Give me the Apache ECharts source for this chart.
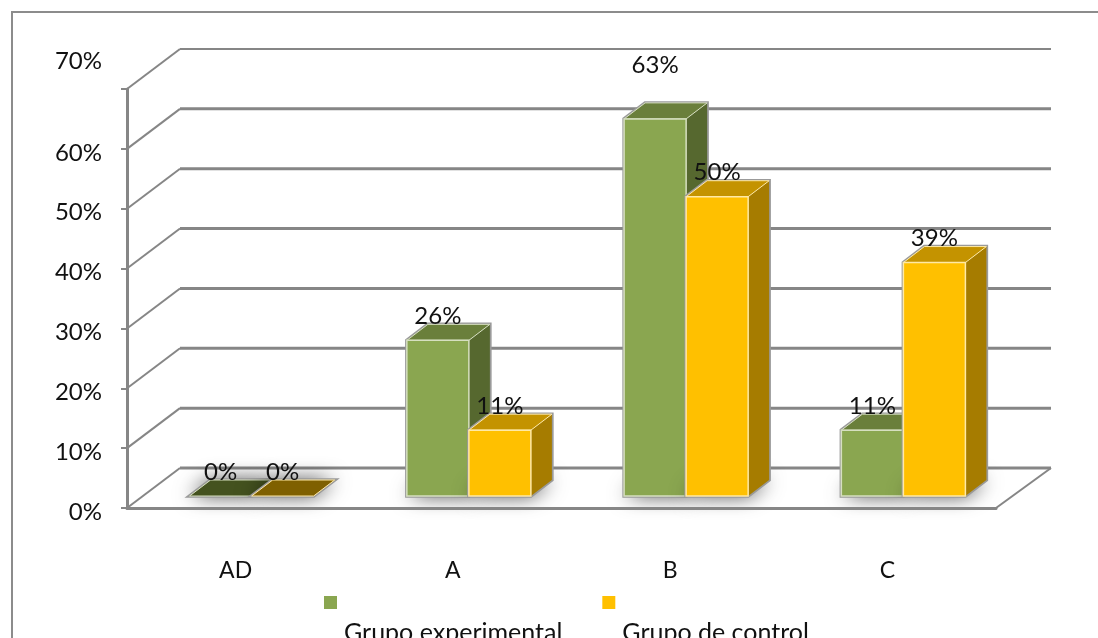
<!DOCTYPE html>
<html>
<head>
<meta charset="utf-8">
<style>html,body{margin:0;padding:0;background:#fff}#chart{width:1098px;height:638px}</style>
<script src="https://cdn.jsdelivr.net/npm/echarts@6/dist/echarts.min.js"></script>
</head>
<body>
<div id="chart"></div>
<script>
// Achievement levels and the share of each group (percent)
const categories = ['AD', 'A', 'B', 'C'];
const experimental = [0, 26, 63, 11];
const control = [0, 11, 50, 39];
const wallTicks = [0, 10, 20, 30, 40, 50, 60, 70];

const FONT = 'Lato, "Open Sans", sans-serif';
const TEXT = '#111';
const GRID = '#868686';

// Oblique projection used for the fake 3D: how far back the floor runs, and the bar's place in it
const FLOOR = { dx: 53, dy: -40, overhang: 2 };
const BAR = { gapX: 16, gapY: -12, dx: 21, dy: -16, widthRatio: 0.2855 };

const palettes = {
  green: { front: '#8aa650', top: '#6a7f3b', side: '#56682f', flat: '#44521f', edge: '#d6dfc0' },
  gold: { front: '#ffc000', top: '#c49300', side: '#a67c00', flat: '#7f6000', edge: '#ffe9a6' }
};

// Back wall, side wall and floor lines, one per value tick
function renderWall(params, api) {
  const value = api.value(0);
  const y = api.coord([0, value])[1];
  const left = params.coordSys.x;
  const right = left + params.coordSys.width;
  const bx = left + FLOOR.dx;
  const by = y + FLOOR.dy;
  const ex = right + FLOOR.dx + FLOOR.overhang;
  const children = [
    { type: 'polyline', shape: { points: [[left, y], [bx, by]] },
      style: { stroke: GRID, lineWidth: 2, fill: null } },
    { type: 'line', shape: { x1: bx, y1: by, x2: ex, y2: by },
      style: { stroke: GRID, lineWidth: value === wallTicks[wallTicks.length - 1] ? 2 : 3 } }
  ];
  if (value === 0) {
    children.push({ type: 'line', shape: { x1: right, y1: y, x2: ex, y2: by },
      style: { stroke: GRID, lineWidth: 2 } });
  }
  return { type: 'group', silent: true, children };
}

// One oblique bar; seriesSide is -1 for the left bar of a pair and 0 for the right one
function barRenderer(pal, seriesSide) {
  return function (params, api) {
    const cat = api.value(0);
    const val = api.value(1);
    const band = api.size([1, 0])[0];
    const w = band * BAR.widthRatio;
    const [cx, y0] = api.coord([cat, 0]);
    const yTop = api.coord([cat, val])[1];
    const xl = cx + BAR.gapX + seriesSide * w;
    const xr = xl + w;
    const base = y0 + BAR.gapY;
    const top = yTop + BAR.gapY;
    const { dx, dy } = BAR;
    const children = [
      // soft shadow cast on the floor
      { type: 'polygon', shape: { points: [[xl, base], [xr, base], [xr + dx, base + dy], [xl + dx, base + dy]] },
        style: { fill: '#777', shadowBlur: 20, shadowColor: 'rgba(0,0,0,0.75)' } },
      // grey outline around the whole block
      { type: 'polygon', shape: { points: [[xl, base], [xr, base], [xr + dx, base + dy], [xr + dx, top + dy], [xl + dx, top + dy], [xl, top]] },
        style: { fill: '#999', stroke: '#9a9a9a', lineWidth: 3.5 } }
    ];
    if (val > 0) {
      children.push(
        { type: 'polygon', shape: { points: [[xr, base], [xr + dx, base + dy], [xr + dx, top + dy], [xr, top]] },
          style: { fill: pal.side } },
        { type: 'polygon', shape: { points: [[xl, top], [xr, top], [xr + dx, top + dy], [xl + dx, top + dy]] },
          style: { fill: pal.top, stroke: pal.edge, lineWidth: 1 } },
        { type: 'rect', shape: { x: xl, y: top, width: w, height: base - top },
          style: { fill: pal.front, stroke: pal.edge, lineWidth: 1.5 } }
      );
    } else {
      children.push(
        { type: 'polygon', shape: { points: [[xl, base], [xr, base], [xr + dx, base + dy], [xl + dx, base + dy]] },
          style: { fill: pal.flat, stroke: pal.edge, lineWidth: 1 } }
      );
    }
    // The tallest bar's label sits well above its block
    const lift = val === Math.max(...experimental, ...control) ? 54 : 24;
    children.push({
      type: 'text',
      z2: 100,
      style: {
        x: xl + w / 2, y: top - lift, text: val + '%',
        align: 'center', verticalAlign: 'middle',
        font: '24px ' + FONT, fill: TEXT
      }
    });
    return { type: 'group', children };
  };
}

const chart = echarts.init(document.getElementById('chart'), null, { renderer: 'canvas' });
chart.setOption({
  animation: false,
  backgroundColor: '#fff',
  textStyle: { fontFamily: FONT },
  grid: { left: 127, right: 102, top: 89, bottom: 130 },
  xAxis: {
    type: 'category',
    data: categories,
    z: 5,
    axisLine: { lineStyle: { color: GRID, width: 3 } },
    axisTick: { length: 7, lineStyle: { color: GRID, width: 2 } },
    axisLabel: { margin: 51, color: TEXT, fontSize: 23, fontFamily: FONT },
    splitLine: { show: false }
  },
  yAxis: {
    type: 'value',
    min: 0,
    max: 70,
    interval: 10,
    axisLine: { show: true, lineStyle: { color: GRID, width: 3 } },
    axisTick: { show: true, length: 6, lineStyle: { color: GRID, width: 2 } },
    splitLine: { show: false },
    axisLabel: {
      margin: 25,
      color: TEXT,
      formatter: v => (v === 70 ? '{top|' + v + '%}' : '{std|' + v + '%}'),
      rich: {
        std: { fontSize: 24, fontFamily: FONT, color: TEXT, padding: [8, 0, 0, 0] },
        top: { fontSize: 24, fontFamily: FONT, color: TEXT, padding: [0, 0, 55, 0] }
      }
    }
  },
  legend: {
    left: 324,
    top: 596,
    padding: 0,
    itemWidth: 13,
    itemHeight: 13,
    itemGap: 40,
    icon: 'rect',
    selectedMode: false,
    data: ['Grupo experimental', 'Grupo de control'],
    formatter: name => '{n|' + name + '}',
    textStyle: {
      rich: { n: { fontSize: 25, fontFamily: FONT, color: TEXT, padding: [60, 0, 0, 2] } }
    }
  },
  graphic: [{
    type: 'polyline',
    silent: true,
    shape: { points: [[12, 638], [12, 12], [1098, 12]] },
    style: { stroke: '#8c8c8c', lineWidth: 2, fill: null }
  }],
  series: [
    {
      type: 'custom', name: 'wall', z: 1, silent: true,
      renderItem: renderWall, clip: false,
      data: wallTicks.map(v => [v]),
      encode: { y: 0 }
    },
    {
      type: 'custom', name: 'Grupo experimental', z: 2, silent: true,
      itemStyle: { color: palettes.green.front },
      renderItem: barRenderer(palettes.green, -1), clip: false,
      data: experimental.map((v, i) => [i, v]),
      encode: { x: 0, y: 1 }
    },
    {
      type: 'custom', name: 'Grupo de control', z: 3, silent: true,
      itemStyle: { color: palettes.gold.front },
      renderItem: barRenderer(palettes.gold, 0), clip: false,
      data: control.map((v, i) => [i, v]),
      encode: { x: 0, y: 1 }
    }
  ]
});
</script>
</body>
</html>
